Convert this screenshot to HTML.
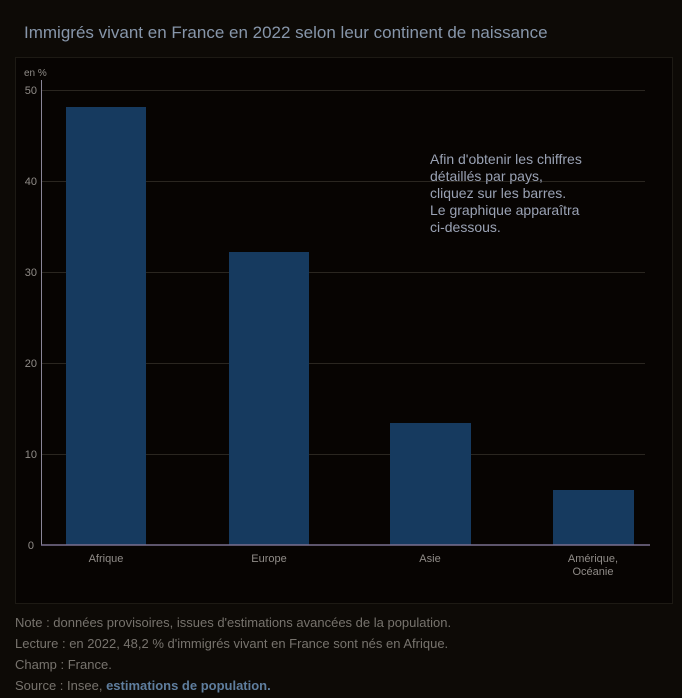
<!DOCTYPE html><html><head><meta charset="utf-8"><style>
body{margin:0;width:682px;height:698px;background:#0d0a06;font-family:"Liberation Sans",sans-serif;overflow:hidden;position:relative}
.t{position:absolute;white-space:nowrap}
</style></head><body>
<div class="t" style="left:24px;top:23px;font-size:17px;color:#8796aa">Immigrés vivant en France en 2022 selon leur continent de naissance</div>
<svg style="position:absolute;left:0;top:0" width="682" height="698">
<rect x="15.5" y="57.5" width="657" height="546" fill="#070402" stroke="#1d1a14"/>
<g stroke="#2a2620" stroke-width="1">
<line x1="41" x2="645" y1="90.5" y2="90.5"/><line x1="41" x2="645" y1="181.5" y2="181.5"/>
<line x1="41" x2="645" y1="272.5" y2="272.5"/><line x1="41" x2="645" y1="363.5" y2="363.5"/>
<line x1="41" x2="645" y1="454.5" y2="454.5"/></g>
<g fill="#163a5f">
<rect x="66" y="107" width="80" height="438"/><rect x="229" y="252" width="80" height="293"/>
<rect x="390" y="423" width="81" height="122"/><rect x="553" y="490" width="81" height="55"/></g>
<line x1="41.5" y1="80" x2="41.5" y2="545" stroke="#8a8698"/>
<line x1="41" y1="545" x2="650" y2="545" stroke="#7a7090" stroke-width="1.5"/>
<g font-size="11" fill="#908c88" text-anchor="end">
<text x="37" y="94">50</text><text x="37" y="185">40</text><text x="37" y="276">30</text>
<text x="37" y="367">20</text><text x="37" y="458">10</text><text x="34" y="549">0</text></g>
<text x="24" y="76" font-size="10" fill="#908c88">en %</text>
<g font-size="11" fill="#908c88" text-anchor="middle">
<text x="106" y="562">Afrique</text><text x="269" y="562">Europe</text><text x="430" y="562">Asie</text>
<text x="593" y="562">Amérique,</text><text x="593" y="575">Océanie</text></g>
<g font-size="14" fill="#9aa2b4">
<text x="430" y="164">Afin d'obtenir les chiffres</text><text x="430" y="181">détaillés par pays,</text>
<text x="430" y="198">cliquez sur les barres.</text><text x="430" y="215">Le graphique apparaîtra</text>
<text x="430" y="232">ci-dessous.</text></g>
</svg>
<div style="position:absolute;left:15px;top:612px;font-size:13px;color:#77736d;line-height:21px">
Note : données provisoires, issues d'estimations avancées de la population.<br>
Lecture : en 2022, 48,2 % d'immigrés vivant en France sont nés en Afrique.<br>
Champ : France.<br>
Source : Insee, <b style="color:#5f7e9e">estimations de population.</b></div>
</body></html>
